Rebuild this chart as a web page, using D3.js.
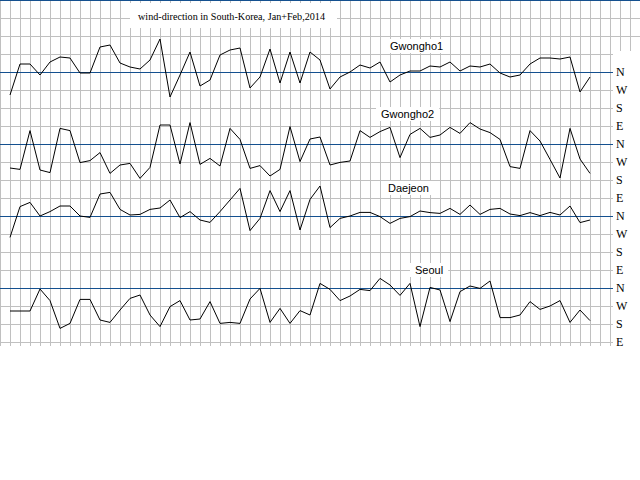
<!DOCTYPE html>
<meta charset="utf-8">
<style>
  body { margin: 0; background: #fff; }
  svg { display: block; }
</style>

<!-- Load d3.js -->
<script src="https://d3js.org/d3.v7.min.js"></script>

<div id="chart"></div>
<script>

// days of the year, 1 Jan .. 28 Feb 2014
var days = [1,2,3,4,5,6,7,8,9,10,11,12,13,14,15,16,17,18,19,20,
            21,22,23,24,25,26,27,28,29,30,31,32,33,34,35,36,37,38,39,40,
            41,42,43,44,45,46,47,48,49,50,51,52,53,54,55,56,57,58,59];

var stations = ["Gwongho1", "Gwongho2", "Daejeon", "Seoul"];

// wind direction in degrees from north (N = 0, upward = clockwise, W = -90, S = -180, E = -270)
var gwongho1 = [-115,40,40,-15,50,75,70,-5,-5,125,135,45,25,15,60,165,-125,-15,100,-70,
                -40,85,110,120,-80,-25,115,-55,100,-55,100,60,-85,-25,0,35,20,50,-50,-15,
                5,5,30,25,50,5,30,25,40,-5,-25,-15,40,70,70,65,75,-100,-25];
var gwongho2 = [-120,-127,67,-130,-143,78,67,-93,-83,-43,-147,-105,-97,-172,-117,95,95,-100,107,-102,
                -72,-110,78,23,-122,-108,-160,-127,87,-88,25,35,-105,-92,-85,67,33,62,83,-68,
                48,78,33,45,83,53,107,75,57,23,-113,-122,67,15,-77,-170,78,-75,-147];
var daejeon  = [-107,47,68,0,22,50,50,0,-7,110,118,33,5,8,33,40,80,-8,22,-20,
                -32,22,80,138,-73,-12,127,22,127,-70,83,150,-58,-12,0,18,18,-3,-37,-12,
                -3,25,17,13,38,8,55,8,33,38,10,2,17,2,18,5,50,-33,-20];
var seoul    = [-115,-115,-115,-5,-63,-202,-177,-57,-57,-160,-172,-110,-52,-35,-135,-193,-93,-63,-160,-155,
                -68,-177,-172,-177,-55,-2,-172,-102,-177,-113,-135,23,-7,-63,-40,-7,-13,48,15,-37,
                23,-193,3,-10,-168,-18,10,-2,35,-148,-148,-135,-68,-107,-90,-63,-172,-110,-163];

var series = [gwongho1, gwongho2, daejeon, seoul];

// compass tick labels on the right
var dirLabels = ["N", "W", "S", "E"];
var dirValues = [0, -90, -180, -270];

var title = "wind-direction in South-Korea, Jan+Feb,2014";

// where each station name sits (left x, baseline y)
var labelPos = [[390, 50], [381, 118], [388, 192], [415, 274]];

var width = 640, height = 480;
var gridRight = 613, gridBottom = 346;

var svg = d3.select("#chart")
  .append("svg")
    .attr("width", width)
    .attr("height", height);

// x: one day per 10px
var x = d3.scaleLinear()
  .domain([0, 64])
  .range([0, 640]);

// N line of each station band
var band = d3.scaleLinear()
  .domain([0, 4])
  .range([72, 360]);

function yFor(k) {
  return d3.scaleLinear()
    .domain([0, -270])
    .range([band(k), band(k) + 54]);
}

// grid
var grid = svg.append("g")
  .attr("stroke", "#c0c0c0")
  .attr("stroke-width", 1)
  .attr("shape-rendering", "crispEdges");

grid.selectAll(".v")
  .data(d3.range(0, 64))
  .enter()
  .append("line")
    .attr("x1", function(d) { return x(d) + 0.5; })
    .attr("x2", function(d) { return x(d) + 0.5; })
    .attr("y1", 0)
    .attr("y2", gridBottom);

var y0 = yFor(-1);
grid.selectAll(".h")
  .data(d3.range(0, 20))
  .enter()
  .append("line")
    .attr("x1", 0)
    .attr("x2", width)
    .attr("y1", function(d) { return y0(-90 * d) + 0.5; })
    .attr("y2", function(d) { return y0(-90 * d) + 0.5; });

// blue N lines
svg.append("g")
  .selectAll("line")
  .data([-1, 0, 1, 2, 3])
  .enter()
  .append("line")
    .attr("x1", 0)
    .attr("x2", width)
    .attr("y1", function(k) { return yFor(k)(0) + 0.5; })
    .attr("y2", function(k) { return yFor(k)(0) + 0.5; })
    .attr("stroke", "#14508f")
    .attr("stroke-width", 1)
    .attr("shape-rendering", "crispEdges");

// white panel for compass letters
svg.append("rect")
  .attr("x", gridRight)
  .attr("y", 51)
  .attr("width", width - gridRight)
  .attr("height", 310)
  .attr("fill", "#fff");

// title
svg.append("rect")
  .attr("x", 130).attr("y", 3)
  .attr("width", 207).attr("height", 25)
  .attr("fill", "#fff");
svg.append("text")
  .attr("x", 138)
  .attr("y", 20)
  .attr("textLength", 187)
  .attr("lengthAdjust", "spacingAndGlyphs")
  .style("font-family", "'Liberation Serif', 'DejaVu Serif', serif")
  .style("font-size", "11px")
  .text(title);

// station names on white boxes
stations.forEach(function(name, k) {
  var t = svg.append("text")
    .attr("x", labelPos[k][0])
    .attr("y", labelPos[k][1])
    .style("font-family", "'Liberation Sans', Arial, sans-serif")
    .style("font-size", "11px")
    .text(name);
  var b = t.node().getBBox();
  svg.insert("rect", "text:last-of-type")
    .attr("x", b.x - 5)
    .attr("y", b.y - 1)
    .attr("width", b.width + 10)
    .attr("height", b.height + 2)
    .attr("fill", "#fff");
});

// compass axes and lines
series.forEach(function(vals, k) {
  var y = yFor(k);

  var ax = svg.append("g")
    .attr("transform", "translate(" + (gridRight) + ",0)")
    .call(d3.axisRight(y)
      .tickValues(dirValues)
      .tickFormat(function(d, i) { return dirLabels[i]; })
      .tickSize(0)
      .tickPadding(3));
  ax.select(".domain").remove();
  ax.selectAll("text")
    .style("font-family", "'Liberation Serif', 'DejaVu Serif', serif")
    .style("font-size", "12px")
    .attr("fill", "#000");

  svg.append("path")
    .datum(vals)
    .attr("fill", "none")
    .attr("stroke", "#000")
    .attr("stroke-width", 1)
    .attr("d", d3.line()
      .x(function(d, i) { return x(days[i]); })
      .y(function(d) { return y(d); }));
});

</script>
